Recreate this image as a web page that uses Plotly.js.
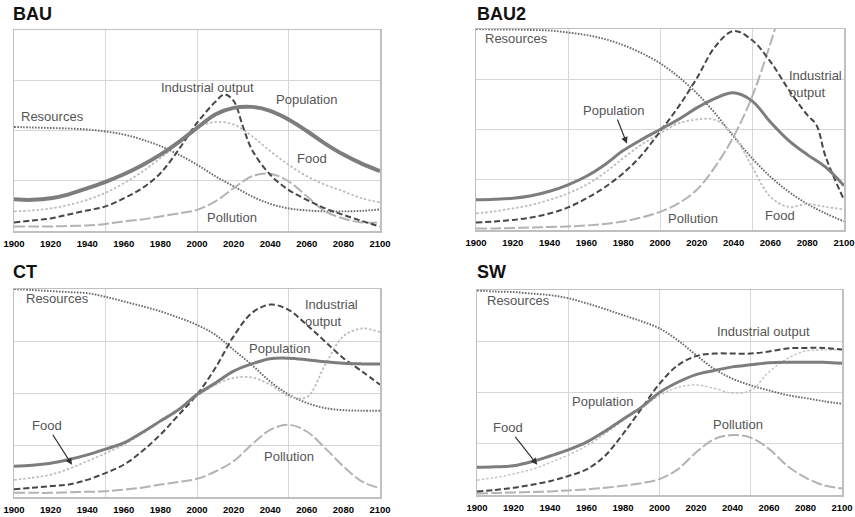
<!DOCTYPE html>
<html>
<head>
<meta charset="utf-8">
<script src="https://cdn.plot.ly/plotly-3.0.1.min.js"></script>
<style>html,body{margin:0;padding:0;background:#fff;}#chart{width:855px;height:517px;}</style>
</head>
<body>
<div id="chart"></div>
<script>
// ---------- data ----------
const years = [1900,1910,1920,1930,1940,1950,1960,1970,1980,1990,2000,2010,2020,2030,2040,2050,2060,2070,2080,2090,2100];
const panelTitles = ["BAU","BAU2","CT","SW"];
const tickYears = [1900,1920,1940,1960,1980,2000,2020,2040,2060,2080,2100];

// BAU
const bauPopulation = [0.63,0.62,0.65,0.73,0.85,0.98,1.13,1.31,1.52,1.77,2.05,2.32,2.45,2.47,2.39,2.22,1.99,1.74,1.52,1.34,1.19];
const bauIndustryYears = [1900,1910,1920,1930,1940,1950,1960,1970,1980,1990,2000,2010,2015,2020,2025,2030,2040,2050,2060,2070,2080,2090,2100];
const bauIndustry = [0.17,0.21,0.25,0.33,0.41,0.49,0.65,0.85,1.15,1.62,2.15,2.57,2.72,2.59,2.09,1.62,1.12,0.82,0.62,0.45,0.32,0.2,0.09];
const bauFood = [0.39,0.41,0.45,0.52,0.62,0.76,0.95,1.18,1.45,1.75,2.05,2.17,2.12,1.89,1.59,1.32,1.09,0.92,0.79,0.65,0.57];
const bauResources = [2.07,2.06,2.05,2.04,2.02,1.98,1.92,1.82,1.69,1.52,1.32,1.09,0.89,0.69,0.54,0.45,0.41,0.39,0.39,0.4,0.43];
const bauPollution = [0.09,0.09,0.09,0.1,0.11,0.14,0.19,0.23,0.29,0.35,0.42,0.59,0.85,1.09,1.14,0.99,0.69,0.39,0.25,0.17,0.17];

// BAU2
const bau2Population = [0.6,0.61,0.63,0.68,0.77,0.9,1.07,1.3,1.58,1.8,2.0,2.2,2.43,2.62,2.73,2.57,2.15,1.78,1.5,1.25,0.88];
const bau2IndustryYears = [1900,1910,1920,1930,1940,1950,1960,1970,1980,1990,2000,2010,2020,2030,2040,2050,2060,2070,2080,2085,2090,2100];
const bau2Industry = [0.15,0.17,0.2,0.25,0.33,0.45,0.63,0.85,1.13,1.49,1.96,2.45,3.02,3.65,3.96,3.78,3.35,2.79,2.29,2.09,1.46,0.6];
const bau2Food = [0.33,0.37,0.43,0.5,0.6,0.73,0.9,1.14,1.43,1.7,1.92,2.12,2.2,2.19,1.89,1.26,0.66,0.46,0.52,0.46,0.41];
const bau2Resources = [4.0,3.99,3.99,3.98,3.97,3.93,3.88,3.8,3.68,3.52,3.32,3.05,2.72,2.32,1.86,1.43,1.06,0.76,0.52,0.33,0.17];
const bau2Pollution = [0.03,0.03,0.04,0.05,0.06,0.07,0.09,0.12,0.17,0.25,0.36,0.53,0.8,1.26,1.86,2.65,3.71,4.9,6.0,7.0,8.0];

// CT
const ctPopulation = [0.59,0.61,0.65,0.72,0.81,0.92,1.04,1.24,1.46,1.68,1.97,2.19,2.42,2.56,2.66,2.67,2.64,2.6,2.57,2.56,2.56];
const ctIndustry = [0.15,0.18,0.21,0.24,0.33,0.46,0.62,0.88,1.2,1.58,1.97,2.48,3.09,3.54,3.7,3.6,3.31,2.99,2.67,2.42,2.16];
const ctFood = [0.33,0.37,0.43,0.54,0.69,0.84,1.01,1.22,1.46,1.7,1.94,2.16,2.29,2.3,2.16,1.94,1.92,2.54,3.09,3.24,3.17];
const ctResources = [4.0,3.98,3.96,3.94,3.92,3.85,3.76,3.67,3.57,3.45,3.31,3.12,2.83,2.54,2.22,1.97,1.81,1.71,1.67,1.66,1.66];
const ctPollution = [0.08,0.08,0.08,0.09,0.1,0.11,0.14,0.18,0.24,0.29,0.35,0.49,0.69,1.01,1.29,1.39,1.26,0.94,0.59,0.3,0.17];

// SW
const swPopulation = [0.54,0.55,0.57,0.65,0.76,0.88,1.03,1.24,1.48,1.71,2.0,2.2,2.35,2.43,2.5,2.54,2.58,2.59,2.59,2.59,2.57];
const swIndustry = [0.07,0.1,0.14,0.2,0.27,0.37,0.5,0.76,1.19,1.68,2.17,2.53,2.71,2.76,2.76,2.76,2.8,2.86,2.87,2.87,2.84];
const swFood = [0.29,0.34,0.41,0.5,0.63,0.78,0.96,1.19,1.45,1.7,1.94,2.1,2.15,2.08,1.99,2.04,2.4,2.66,2.81,2.83,2.83];
const swResources = [3.99,3.97,3.96,3.93,3.9,3.84,3.74,3.63,3.51,3.39,3.25,3.02,2.73,2.46,2.27,2.14,2.04,1.95,1.89,1.83,1.78];
const swPollution = [0.03,0.04,0.05,0.06,0.07,0.09,0.11,0.14,0.18,0.23,0.31,0.5,0.83,1.09,1.17,1.12,0.9,0.57,0.34,0.19,0.13];

// ---------- styles ----------
const FONT = "Liberation Sans, Arial, Helvetica, sans-serif";
const st = {
  pop:  {color:"#7d7d7d", dash:"solid"},
  ind:  {color:"#474747", dash:"6px,3px", width:2},
  food: {color:"#bdbdbd", dash:"2.5px,2px", width:1.8},
  res:  {color:"#6a6a6a", dash:"1.6px,1.4px", width:1.9},
  pol:  {color:"#b3b3b3", dash:"11px,3px", width:2}
};

function tr(x, y, s, ax, w) {
  return {type:"scatter", mode:"lines", x:x, y:y, xaxis:"x"+ax, yaxis:"y"+ax,
    line:{color:s.color, dash:s.dash, width:w || s.width, shape:"spline", smoothing:1},
    hoverinfo:"skip", showlegend:false};
}

const data = [
  tr(years, bauResources, st.res, "", 0), tr(years, bauPollution, st.pol, "", 0), tr(years, bauFood, st.food, "", 0),
  tr(bauIndustryYears, bauIndustry, st.ind, "", 0), tr(years, bauPopulation, st.pop, "", 4),
  tr(years, bau2Resources, st.res, "2"), tr(years, bau2Pollution, st.pol, "2"), tr(years, bau2Food, st.food, "2"),
  tr(bau2IndustryYears, bau2Industry, st.ind, "2"), tr(years, bau2Population, st.pop, "2", 3),
  tr(years, ctResources, st.res, "3"), tr(years, ctPollution, st.pol, "3"), tr(years, ctFood, st.food, "3"),
  tr(years, ctIndustry, st.ind, "3"), tr(years, ctPopulation, st.pop, "3", 3),
  tr(years, swResources, st.res, "4"), tr(years, swPollution, st.pol, "4"), tr(years, swFood, st.food, "4", 1.3),
  tr(years, swIndustry, st.ind, "4"), tr(years, swPopulation, st.pop, "4", 3)
];

function xax(domain, anchor) {
  return {domain:domain, anchor:anchor, range:[1900,2100], tickmode:"array", tickvals:tickYears,
    ticktext:tickYears.map(v => "<b>" + v + "</b>"), showgrid:false, zeroline:false,
    showline:true, mirror:true, linecolor:"#c0c0c0", linewidth:1.5,
    ticks:"outside", ticklen:3, tickcolor:"rgba(0,0,0,0)",
    tickfont:{family:FONT, size:9.5, color:"#000"},
    minor:{tickmode:"linear", tick0:1900, dtick:50, showgrid:true, gridcolor:"#d6d6d6", gridwidth:1, ticks:""},
    fixedrange:true};
}
function yax(domain, anchor) {
  return {domain:domain, anchor:anchor, range:[0,4], tickmode:"linear", tick0:0, dtick:1,
    showticklabels:false, showgrid:true, gridcolor:"#d6d6d6", gridwidth:1, zeroline:false,
    showline:true, mirror:true, linecolor:"#c0c0c0", linewidth:1.5, ticks:"", fixedrange:true};
}

const LBL = {family:FONT, size:13, color:"#555"};
function lab(ax, x, y, text, extra) {
  return Object.assign({xref:"x"+ax, yref:"y"+ax, x:x, y:y, text:text, showarrow:false, font:LBL}, extra||{});
}
function arrowLab(ax, x, y, text, dx, dy) {
  return {xref:"x"+ax, yref:"y"+ax, x:x, y:y, text:text, showarrow:true, ax:dx, ay:dy,
    arrowhead:2, arrowsize:1.1, arrowwidth:1.2, arrowcolor:"#333", standoff:0, font:LBL};
}
function title(x, y, text) {
  return {xref:"paper", yref:"paper", x:x/855, y:1-y/517, xanchor:"left", yanchor:"middle",
    text:"<b>" + text + "</b>", showarrow:false, font:{family:FONT, size:18, color:"#111"}};
}

const annotations = [
  title(11, 14, panelTitles[0]), title(475, 14, panelTitles[1]),
  title(11, 272, panelTitles[2]), title(475, 272, panelTitles[3]),
  // BAU
  lab("", 2005.5, 2.85, "Industrial output"), lab("", 2060, 2.61, "Population"),
  lab("", 1921, 2.27, "Resources"), lab("", 2063, 1.45, "Food"), lab("", 2019, 0.26, "Pollution"),
  // BAU2
  lab("2", 1922, 3.82, "Resources"),
  arrowLab("2", 1982, 1.72, "Population", -13, -33),
  lab("2", 2069, 2.9, "Industrial<br>output", {xanchor:"left", align:"left"}),
  lab("2", 2018, 0.22, "Pollution"), lab("2", 2065, 0.28, "Food"),
  // CT
  lab("3", 1923.5, 3.81, "Resources"),
  lab("3", 2058, 3.53, "Industrial<br>output", {xanchor:"left", align:"left"}),
  lab("3", 2045, 2.85, "Population"),
  arrowLab("3", 1931.7, 0.62, "Food", -25, -39),
  lab("3", 2050, 0.77, "Pollution"),
  // SW
  lab("4", 1923, 3.79, "Resources"), lab("4", 2057, 3.2, "Industrial output"),
  lab("4", 1969, 1.83, "Population"),
  arrowLab("4", 1933, 0.59, "Food", -29, -37),
  lab("4", 2043, 1.37, "Pollution")
];

const layout = {
  width:855, height:517, margin:{l:0, r:0, t:0, b:0},
  paper_bgcolor:"#fff", plot_bgcolor:"#fff", showlegend:false,
  font:{family:FONT},
  xaxis: xax([14/855, 380/855], "y"),   yaxis: yax([1-231/517, 1-30/517], "x"),
  xaxis2: xax([476/855, 844/855], "y2"), yaxis2: yax([1-230/517, 1-29/517], "x2"),
  xaxis3: xax([14/855, 380/855], "y3"),  yaxis3: yax([1-497/517, 1-289/517], "x3"),
  xaxis4: xax([477/855, 842/855], "y4"), yaxis4: yax([1-495/517, 1-290/517], "x4"),
  annotations: annotations
};

Plotly.newPlot("chart", data, layout, {displayModeBar:false, staticPlot:true});
</script>
</body>
</html>
